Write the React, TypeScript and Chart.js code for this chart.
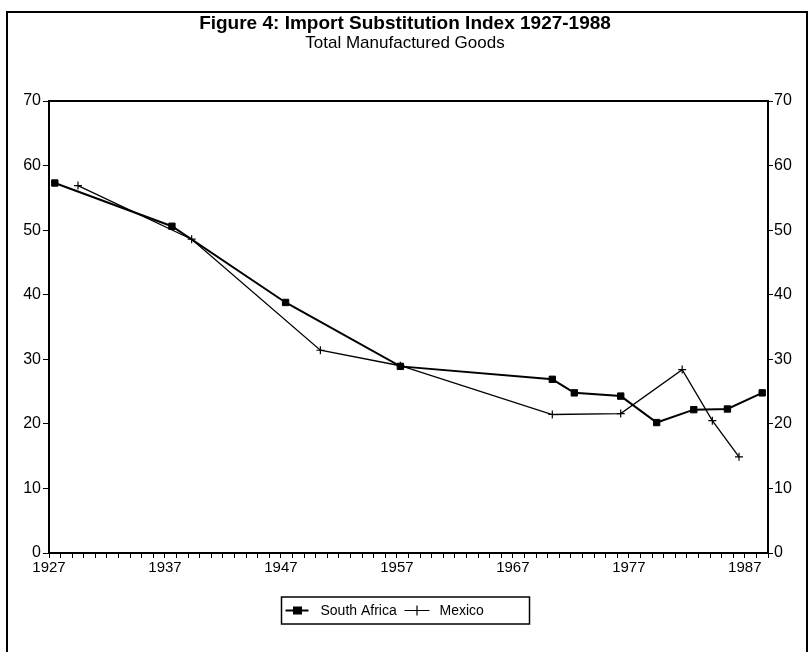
import { useEffect, useRef } from "react";
import { Chart, registerables } from "chart.js";

Chart.register(...registerables);

// ---- Data ----
const seriesNames = ["South Africa", "Mexico"];
const saYears = [1927.5, 1937.6, 1947.4, 1957.3, 1970.4, 1972.3, 1976.3, 1979.4, 1982.6, 1985.5, 1988.5];
const saValues = [57.3, 50.6, 38.8, 28.9, 26.9, 24.8, 24.3, 20.2, 22.2, 22.3, 24.8];
const mxYears = [1929.5, 1939.3, 1950.4, 1957.3, 1970.4, 1976.3, 1981.6, 1984.2, 1986.5];
const mxValues = [56.9, 48.6, 31.4, 29.0, 21.45, 21.6, 28.4, 20.5, 14.9];
const xLabelYears = [1927, 1937, 1947, 1957, 1967, 1977, 1987];
const xMin = 1927;
const xMax = 1989;
const yMin = 0;
const yMax = 70;
const yStep = 10;
const titleText = "Figure 4: Import Substitution Index 1927-1988";
const subtitleText = "Total Manufactured Goods";

const FONT = "'Liberation Sans', Arial, Helvetica, sans-serif";

const framePlugin = {
  id: "frame",
  beforeDraw(chart: any) {
    const ctx = chart.ctx;
    ctx.save();
    ctx.fillStyle = "#ffffff";
    ctx.fillRect(0, 0, chart.width, chart.height);
    ctx.strokeStyle = "#000";
    ctx.lineWidth = 2;
    ctx.beginPath();
    ctx.moveTo(7, chart.height);
    ctx.lineTo(7, 12);
    ctx.lineTo(chart.width - 3, 12);
    ctx.lineTo(chart.width - 3, chart.height);
    ctx.stroke();
    ctx.restore();
  },
  afterDraw(chart: any) {
    const ctx = chart.ctx;
    const a = chart.chartArea;
    ctx.save();
    // top border of plot box
    ctx.strokeStyle = "#000";
    ctx.lineWidth = 2;
    ctx.beginPath();
    ctx.moveTo(a.left, a.top);
    ctx.lineTo(a.right, a.top);
    ctx.stroke();

    // legend box
    const cx = (a.left + a.right) / 2;
    const bw = 248;
    const bh = 27;
    const bx = cx - bw / 2 - 3;
    const by = a.bottom + 44;
    ctx.lineWidth = 1.5;
    ctx.strokeRect(bx, by, bw, bh);
    const my = by + bh / 2;
    ctx.font = `14px ${FONT}`;
    ctx.textBaseline = "middle";
    ctx.fillStyle = "#000";
    // South Africa item
    let x = bx + 4;
    ctx.lineWidth = 2;
    ctx.beginPath();
    ctx.moveTo(x, my);
    ctx.lineTo(x + 23, my);
    ctx.stroke();
    ctx.fillRect(x + 7.5, my - 4, 9, 8);
    ctx.fillText(chart.data.datasets[0].label, x + 35, my + 1);
    // Mexico item
    x = bx + 123;
    ctx.lineWidth = 1.2;
    ctx.beginPath();
    ctx.moveTo(x, my);
    ctx.lineTo(x + 25, my);
    ctx.moveTo(x + 12.5, my - 5);
    ctx.lineTo(x + 12.5, my + 5);
    ctx.stroke();
    ctx.fillText(chart.data.datasets[1].label, x + 35, my + 1);
    ctx.restore();
  },
};

export default function App() {
  const canvasRef = useRef<HTMLCanvasElement | null>(null);

  useEffect(() => {
    document.body.style.margin = "0";
    const canvas = canvasRef.current;
    if (!canvas) return;
    const chart = new Chart(canvas, {
      type: "line",
      data: {
        datasets: [
          {
            label: seriesNames[0],
            data: saYears.map((yr, i) => ({ x: yr, y: saValues[i] })),
            borderColor: "#000",
            backgroundColor: "#000",
            borderWidth: 2,
            pointStyle: "rect",
            pointRadius: 4.5,
            pointBorderWidth: 1,
            tension: 0,
          },
          {
            label: seriesNames[1],
            data: mxYears.map((yr, i) => ({ x: yr, y: mxValues[i] })),
            borderColor: "#000",
            backgroundColor: "#000",
            borderWidth: 1.3,
            pointStyle: "cross",
            pointRadius: 4,
            pointBorderWidth: 1.2,
            tension: 0,
          },
        ],
      },
      options: {
        responsive: false,
        animation: false,
        events: [],
        layout: { padding: { left: 0, right: 0, top: 0, bottom: 0 } },
        plugins: {
          legend: { display: false },
          tooltip: { enabled: false },
          title: {
            display: true,
            text: titleText,
            color: "#000",
            font: { family: FONT, size: 19, weight: "bold", lineHeight: 1.0 },
            padding: { top: 14, bottom: 2 },
          },
          subtitle: {
            display: true,
            text: subtitleText,
            color: "#000",
            font: { family: FONT, size: 17, weight: "normal", lineHeight: 1.0 },
            padding: { top: 0, bottom: 49 },
          },
        },
        scales: {
          x: {
            type: "linear",
            min: xMin,
            max: xMax,
            afterFit: (s: any) => {
              s.height = 99;
            },
            ticks: {
              stepSize: 1,
              autoSkip: false,
              maxTicksLimit: 200,
              maxRotation: 0,
              padding: 1,
              color: "#000",
              font: { family: FONT, size: 15 },
              callback: (v: any) => (xLabelYears.includes(Number(v)) ? String(v) : ""),
            },
            grid: {
              display: true,
              drawOnChartArea: false,
              drawTicks: true,
              tickLength: 5,
              color: "#000",
              lineWidth: 1,
            },
            border: { display: true, color: "#000", width: 2 },
          },
          y: {
            type: "linear",
            position: "left",
            min: yMin,
            max: yMax,
            afterFit: (s: any) => {
              s.width = 49;
            },
            ticks: {
              stepSize: yStep,
              padding: 2,
              color: "#000",
              font: { family: FONT, size: 16 },
            },
            grid: {
              display: true,
              drawOnChartArea: false,
              drawTicks: true,
              tickLength: 6,
              color: "#000",
              lineWidth: 1,
            },
            border: { display: true, color: "#000", width: 2 },
          },
          y2: {
            type: "linear",
            position: "right",
            min: yMin,
            max: yMax,
            afterFit: (s: any) => {
              s.width = 42;
            },
            ticks: {
              stepSize: yStep,
              padding: 1,
              color: "#000",
              font: { family: FONT, size: 16 },
            },
            grid: {
              display: true,
              drawOnChartArea: false,
              drawTicks: true,
              tickLength: 5,
              color: "#000",
              lineWidth: 1,
            },
            border: { display: true, color: "#000", width: 2 },
          },
        },
      },
      plugins: [framePlugin],
    } as any);
    return () => chart.destroy();
  }, []);

  return (
    <div style={{ width: 810, height: 652, background: "#fff" }}>
      <canvas ref={canvasRef} width={810} height={652} style={{ display: "block" }} />
    </div>
  );
}
